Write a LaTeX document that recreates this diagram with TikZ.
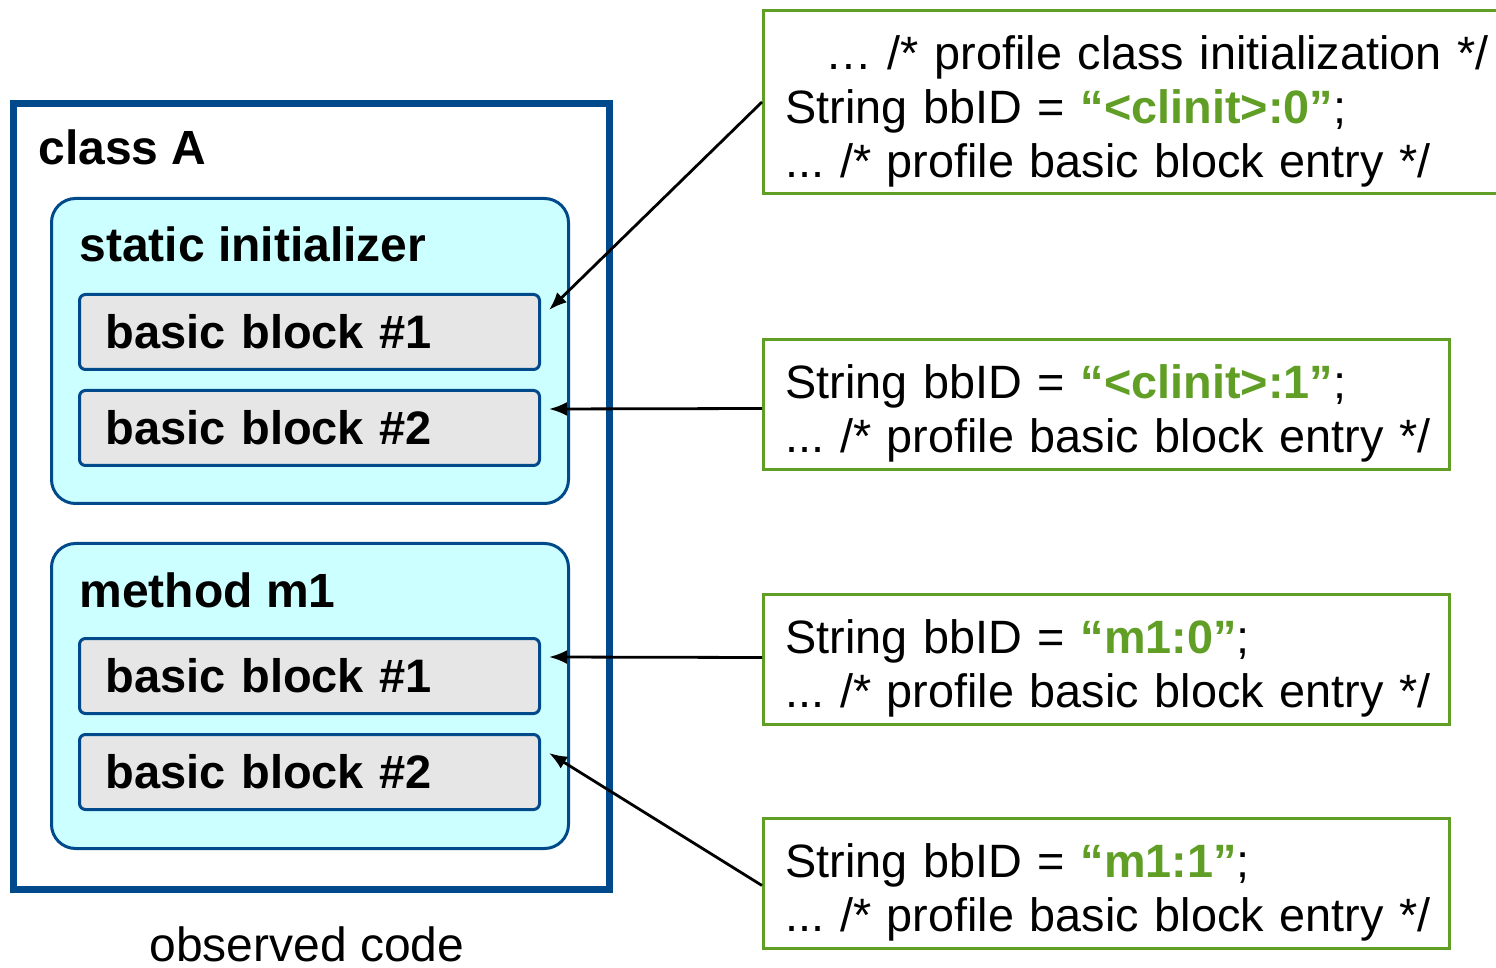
\documentclass[tikz,border=0pt]{standalone}
\usepackage{fontspec}
\setmainfont{Liberation Sans}
\usetikzlibrary{arrows.meta}
\definecolor{classblue}{RGB}{0,73,139}
\definecolor{methodcyan}{RGB}{204,255,255}
\definecolor{blockgray}{RGB}{230,230,230}
\definecolor{codegreen}{RGB}{96,158,38}
\newcommand{\bbid}[1]{{\bfseries\color{codegreen}#1}}
\newcommand{\firstline}{\rule{0pt}{26pt}}
\frenchspacing
\tikzset{
	classbox/.style={draw=classblue, line width=3.5pt, anchor=north west, inner sep=0pt},
	methodbox/.style={draw=classblue, fill=methodcyan, line width=1.5pt, rounded corners=12pt, anchor=north west, inner sep=0pt, minimum width=258.5pt, minimum height=152.5pt},
	bblock/.style={draw=classblue, fill=blockgray, line width=1.5pt, rounded corners=3pt, anchor=north west, minimum width=230pt, minimum height=37.5pt, inner xsep=13pt, inner ysep=0pt, text width=204pt, align=left, font=\fontsize{23.5}{27}\selectfont\bfseries},
	title/.style={anchor=base west, inner sep=0pt, font=\fontsize{24}{27}\selectfont\bfseries},
	codebox/.style={draw=codegreen, line width=1.5pt, anchor=north west, inner xsep=11pt, inner ysep=0pt, align=left, font=\fontsize{23.4}{27}\selectfont},
	ptr/.style={-{Latex[length=9pt,width=7pt]}, line width=1.4pt},
}
\begin{document}
\begin{tikzpicture}[x=0.5pt, y=-0.5pt]
	\useasboundingbox (0,0) rectangle (1496,968);
	% observed code
	\node[classbox, minimum width=298pt, minimum height=393pt] (classA) at (10,100) {};
	\node[title] (classlbl) at (38,165) {class A};
	\node[methodbox] (clinit) at (50,197) {};
	\node[title] (clinitlbl) at (79,262) {static initializer};
	\node[bblock] (sbb1) at (78,293) {basic block \#1};
	\node[bblock] (sbb2) at (78,389) {basic block \#2};
	\node[methodbox] (mone) at (50,542) {};
	\node[title] (monelbl) at (79,607) {method m1};
	\node[bblock] (mbb1) at (78,637) {basic block \#1};
	\node[bblock] (mbb2) at (78,733) {basic block \#2};
	\node[anchor=base, inner sep=0pt, font=\fontsize{24}{27}\selectfont] (observed) at (307,961) {observed code};
	% inserted profiling code
	\node[codebox, text width=352pt, minimum width=374pt, minimum height=91.5pt] (c1) at (762,9)
		{\firstline\hspace*{20pt}\mbox{… /* profile class initialization */}\\String bbID = \bbid{“<clinit>:0”};\\\mbox{... /* profile basic block entry */}};
	\node[codebox, text width=321pt, minimum width=343pt, minimum height=65pt] (c2) at (762,338)
		{\firstline String bbID = \bbid{“<clinit>:1”};\\\mbox{... /* profile basic block entry */}};
	\node[codebox, text width=321pt, minimum width=343pt, minimum height=65pt] (c3) at (762,593)
		{\firstline String bbID = \bbid{“m1:0”};\\\mbox{... /* profile basic block entry */}};
	\node[codebox, text width=321pt, minimum width=343pt, minimum height=65pt] (c4) at (762,817)
		{\firstline String bbID = \bbid{“m1:1”};\\\mbox{... /* profile basic block entry */}};
	\draw[ptr] (c1.west) -- ([xshift=4pt, yshift=11pt]sbb1.east);
	\draw[ptr] ([yshift=-2pt]c2.west) -- ([xshift=4pt, yshift=9.5pt]sbb2.east);
	\draw[ptr] ([yshift=1pt]c3.west) -- ([xshift=4pt, yshift=9.5pt]mbb1.east);
	\draw[ptr] ([yshift=-1pt]c4.west) -- ([xshift=4pt, yshift=9.5pt]mbb2.east);
\end{tikzpicture}
\end{document}
